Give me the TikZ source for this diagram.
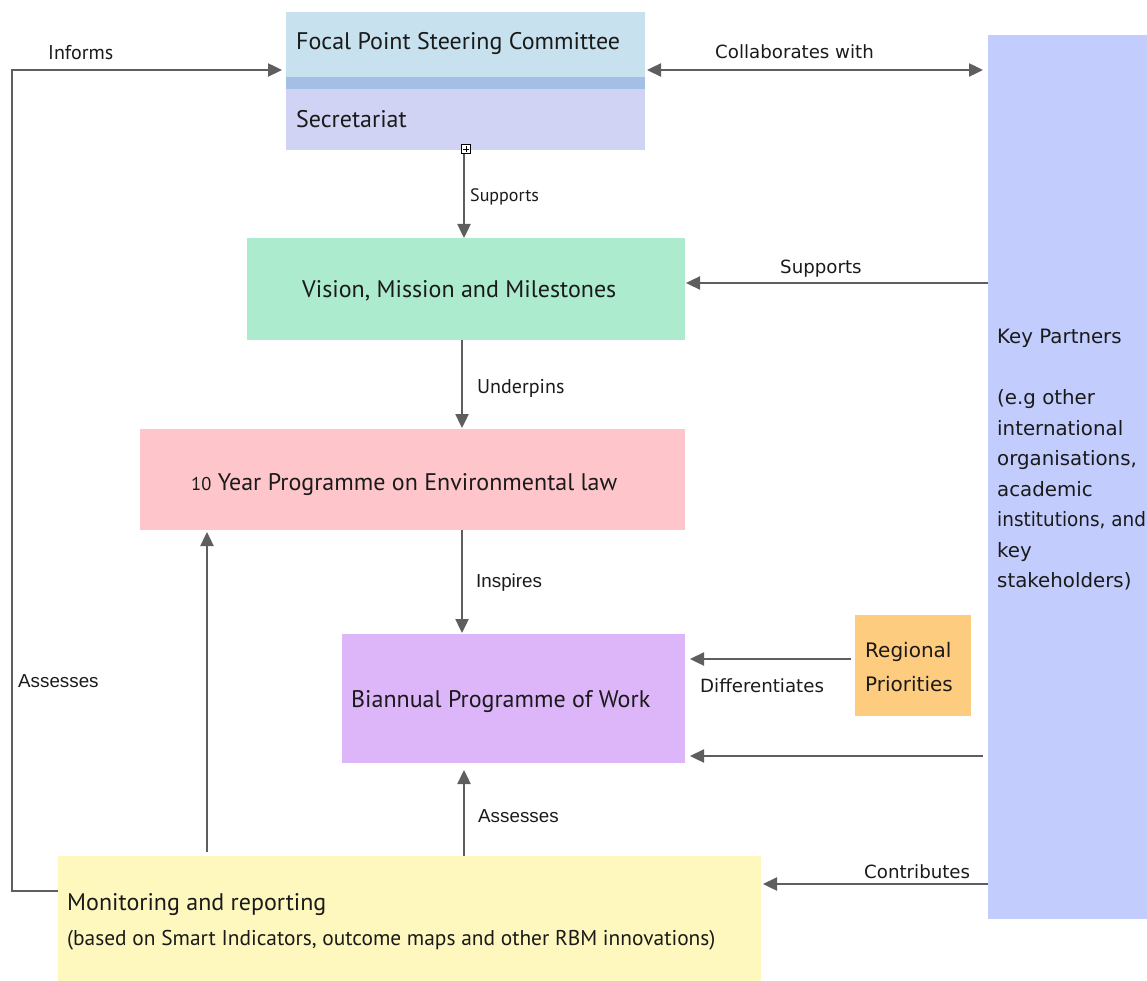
\documentclass[tikz,border=0pt]{standalone}
\usepackage{fontspec}
\setmainfont{PT Sans}
\newfontfamily\boxfont{PT Sans}
\newfontfamily\grande{DejaVu Sans}
\newfontfamily\helv{Liberation Sans}
\usetikzlibrary{arrows.meta,calc}

\definecolor{cFocal}{HTML}{C8E1EE}
\definecolor{cBand}{HTML}{A3BFE6}
\definecolor{cSecr}{HTML}{D0D3F4}
\definecolor{cVision}{HTML}{ADEBCF}
\definecolor{cTen}{HTML}{FEC6CA}
\definecolor{cBien}{HTML}{DDB5F9}
\definecolor{cRegion}{HTML}{FECC7F}
\definecolor{cPartner}{HTML}{C2CCFD}
\definecolor{cMonitor}{HTML}{FEF8BF}
\definecolor{cLine}{HTML}{5E5E5E}
\definecolor{cText}{HTML}{1A1A1A}

\begin{document}
\begin{tikzpicture}[x=1pt,y=-1pt,
  box/.style={inner sep=0pt, outer sep=0pt, anchor=north west, draw=none},
  boxtext/.style={inner sep=0pt, anchor=base west, text=cText, font=\boxfont\fontsize{24}{28}\selectfont},
  wide/.style={inner sep=0pt, anchor=north west, align=left, text=cText},
  linklabel/.style={inner sep=0pt, anchor=base west, text=cText, font=\grande\fontsize{18.2}{22}\selectfont},
  narrowlabel/.style={inner sep=0pt, anchor=base west, text=cText, font=\boxfont\fontsize{20}{24}\selectfont},
  smalllabel/.style={inner sep=0pt, anchor=base west, text=cText, font=\helv\fontsize{18.8}{22}\selectfont},
  link/.style={draw=cLine, line width=2.4pt, -{Triangle[length=14pt,width=13pt]}},
  twoway/.style={draw=cLine, line width=2.4pt, {Triangle[length=14pt,width=13pt]}-{Triangle[length=14pt,width=13pt]}},
]
\useasboundingbox (0,0) rectangle (1147,981);

% coloured boxes
\node[box, fill=cFocal, minimum width=359pt, minimum height=65pt] (focal) at (286,12) {};
\node[box, fill=cBand, minimum width=359pt, minimum height=12pt] (band) at (286,77) {};
\node[box, fill=cSecr, minimum width=359pt, minimum height=61pt] (secr) at (286,89) {};
\node[box, fill=cVision, minimum width=438pt, minimum height=102pt] (vision) at (247,238) {};
\node[box, fill=cTen, minimum width=545pt, minimum height=101pt] (ten) at (140,429) {};
\node[box, fill=cBien, minimum width=343pt, minimum height=129pt] (bien) at (342,634) {};
\node[box, fill=cRegion, minimum width=116pt, minimum height=101pt] (region) at (855,615) {};
\node[box, fill=cPartner, minimum width=159pt, minimum height=884pt] (partner) at (988,35) {};
\node[box, fill=cMonitor, minimum width=703pt, minimum height=125pt] (monitor) at (58,856) {};

% box texts
\node[boxtext] (focalt) at (296,50) {Focal Point Steering Committee};
\node[boxtext] (secrt) at (296,128) {Secretariat};
\node[boxtext] (visiont) at (302,298) {Vision, Mission and Milestones};
\node[boxtext] (tent) at (191,490) {{\fontsize{18.5}{20}\selectfont 10} Year Programme on Environmental law};
\node[boxtext] (bient) at (351,707) {Biannual Programme of Work};
\node[boxtext] (monitort) at (67,910) {Monitoring and reporting};
\node[boxtext, font=\boxfont\fontsize{21.4}{24}\selectfont] (monitorsub) at (67,945) {(based on Smart Indicators, outcome maps and other RBM innovations)};
\node[wide, font=\grande\fontsize{20}{34}\selectfont] (regiont) at (865,642) {Regional\\Priorities};
\node[wide, font=\grande\fontsize{19.8}{30.5}\selectfont] (partnert) at (997,329) {Key Partners\\[30.5pt](e.g other\\international\\organisations,\\academic\\\scalebox{0.93}[1]{institutions, and}\\key\\stakeholders)};

% small expand marker under the secretariat
\node[draw=black, fill=white, line width=0.8pt, minimum size=9pt, inner sep=0pt] (marker) at (466,149) {};
\draw[line width=0.8pt] ([xshift=-3pt]marker.center) -- ([xshift=3pt]marker.center)
  ([yshift=-3pt]marker.center) -- ([yshift=3pt]marker.center);

% vertical flow
\draw[link] ([xshift=-2pt]marker.south) -- ([xshift=-2pt]vision.north);
\node[narrowlabel, font=\boxfont\fontsize{18}{22}\selectfont] (supl) at (470,202) {Supports};
\draw[link] ([xshift=-4pt]vision.south) -- ([xshift=-4pt,yshift=1pt]vision.south |- ten.north);
\node[narrowlabel] (undl) at (477,393) {Underpins};
\draw[link] ([xshift=-4pt]vision.south |- ten.south) -- ([xshift=-4pt,yshift=1pt]vision.south |- bien.north);
\node[smalllabel] (insl) at (476,587) {Inspires};
\draw[link] (monitor.north -| 464,0) -- ([yshift=-7pt]bien.south -| 464,0);
\node[smalllabel] (ass1) at (478,822) {Assesses};
\draw[link] ([yshift=4pt]monitor.north -| 207,0) -- ([yshift=-2pt]ten.south -| 207,0);

% feedback loop back to the committee
\draw[link] ([yshift=-35pt]monitor.north west) -- ++(-46,0) |- ([xshift=-4pt,yshift=-58pt]focal.north west);
\node[narrowlabel] (infl) at (48,60) {Informs};
\node[smalllabel] (ass2) at (18,687) {Assesses};

% links with the key partners
\draw[twoway] ([xshift=2pt,yshift=-58pt]focal.north east) -- ([xshift=-5pt,yshift=-58pt]focal.north east -| partner.west);
\node[linklabel] (colab) at (715,59) {Collaborates with};
\draw[link] (partner.west |- 0,283) -- ([xshift=1pt]vision.east |- 0,283);
\node[linklabel] (supr) at (780,273) {Supports};
\draw[link] ([xshift=-4pt]region.west |- 0,659) -- ([xshift=5pt]bien.east |- 0,659);
\node[linklabel] (difl) at (700,692) {Differentiates};
\draw[link] ([xshift=-5pt]partner.west |- 0,756) -- ([xshift=5pt]bien.east |- 0,756);
\draw[link] (partner.west |- 0,884) -- ([xshift=2pt]monitor.east |- 0,884);
\node[linklabel] (conl) at (864,878) {Contributes};
\end{tikzpicture}
\end{document}
